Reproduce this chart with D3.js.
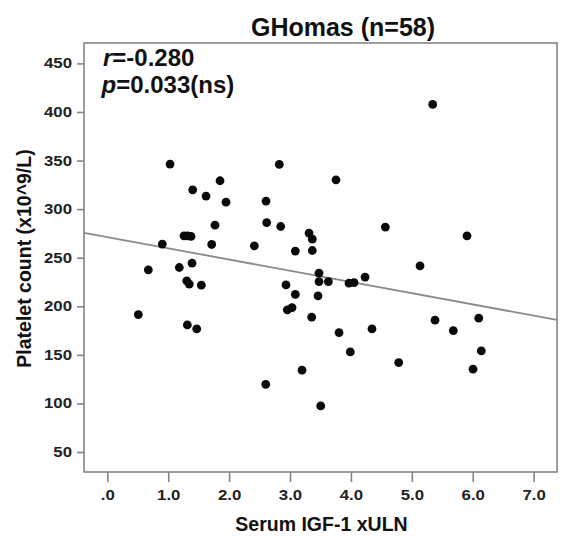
<!DOCTYPE html>
<html lang="en">
<head>
    <meta charset="UTF-8">
    <title>GHomas</title>
    <script src="https://d3js.org/d3.v7.min.js"></script>
    <style>
        body { margin: 0; background: #fff; }
        text { font-family: "Liberation Sans", Arial, sans-serif; }
    </style>
</head>
<body>
    <script>

        var w = 562;
        var h = 536;

        // serum IGF-1 (xULN) and platelet count (x10^9/L)
        var igf = [1.030, 0.903, 0.673, 1.182, 1.402, 1.621, 1.851, 1.949, 1.768, 1.259,
                   1.317, 1.374, 1.714, 1.391, 1.304, 1.346, 1.544, 2.414, 2.606, 2.617,
                   2.824, 2.847, 3.087, 2.934, 3.087, 0.509, 1.314, 1.468, 2.956, 3.033,
                   2.601, 3.197, 3.476, 3.629, 3.460, 3.356, 3.969, 4.051, 4.232, 3.805,
                   4.346, 3.990, 4.785, 3.504, 5.381, 5.681, 6.099, 6.141, 6.005, 5.343,
                   3.755, 4.565, 5.906, 3.312, 3.366, 3.366, 5.135, 3.476];
        var platelets = [346.4, 264.0, 237.5, 239.9, 319.9, 313.4, 329.2, 307.2, 283.5, 272.5,
                         272.5, 272.0, 263.6, 244.4, 226.2, 222.8, 221.7, 262.2, 308.3, 286.2,
                         346.0, 282.1, 256.8, 222.0, 212.3, 191.4, 180.8, 176.7, 196.3, 198.7,
                         119.7, 134.2, 225.4, 225.4, 210.7, 188.8, 223.8, 224.4, 230.0, 172.9,
                         176.7, 153.0, 142.0, 97.4, 185.7, 175.0, 187.7, 154.0, 135.2, 407.8,
                         330.2, 281.5, 272.5, 275.3, 269.1, 257.4, 241.6, 234.1];

        var xTicks = [0, 1, 2, 3, 4, 5, 6, 7];
        var yTicks = [50, 100, 150, 200, 250, 300, 350, 400, 450];

        // fit line
        var fitIntercept = 271.2;
        var fitSlope = -11.54;

        var title = 'GHomas (n=58)';
        var xLabel = 'Serum IGF-1 xULN';
        var yLabel = 'Platelet count (x10^9/L)';
        var rText = '=-0.280';
        var pText = '=0.033(ns)';

        var ds = igf.map(function(d, i){ return {x: d, y: platelets[i]}; });

        // plot box (don't call these top/left, window.top is read-only)
        var plotL = 84, plotR = 557, plotT = 43, plotB = 472;
        var gray = '#858585';
        var stretch = 1.2;

        var x = d3.scaleLinear().domain([-0.383, 7.384]).range([plotL, plotR]);
        var y = d3.scaleLinear().domain([29.4, 471]).range([plotB, plotT]);

        var svg = d3.select('body').append('svg')
            .attr('width', w).attr('height', h);

        // x axis
        var xAxis = d3.axisBottom(x).tickValues(xTicks).tickSize(10).tickPadding(8)
            .tickFormat(function(d){ return d === 0 ? '.0' : d3.format('.1f')(d); });
        var gx = svg.append('g').attr('transform', 'translate(0,' + plotB + ')').call(xAxis);
        gx.select('.domain').remove();
        gx.selectAll('.tick line').attr('stroke', gray).attr('stroke-width', 1.6);
        gx.selectAll('.tick text')
            .attr('font-size', 14).attr('font-weight', 'bold').attr('fill', '#222')
            .attr('font-family', '"Liberation Sans", Arial, sans-serif')
            .attr('transform', 'scale(' + stretch + ',1)');

        // y axis
        var yAxis = d3.axisLeft(y).tickValues(yTicks).tickSize(7);
        var gy = svg.append('g').attr('transform', 'translate(' + plotL + ',0)').call(yAxis);
        gy.select('.domain').remove();
        gy.selectAll('.tick line').attr('stroke', gray).attr('stroke-width', 1.6);
        gy.selectAll('.tick text')
            .attr('font-size', 14).attr('font-weight', 'bold').attr('fill', '#222')
            .attr('font-family', '"Liberation Sans", Arial, sans-serif')
            .attr('x', -12 / stretch)
            .attr('transform', 'scale(' + stretch + ',1)');

        // frame
        svg.append('rect')
            .attr('x', plotL).attr('y', plotT)
            .attr('width', plotR - plotL).attr('height', plotB - plotT)
            .attr('fill', 'none').attr('stroke', gray).attr('stroke-width', 1.6);

        // fit line
        var xd = x.domain();
        svg.append('line')
            .attr('x1', x(xd[0])).attr('y1', y(fitIntercept + fitSlope * xd[0]))
            .attr('x2', x(xd[1])).attr('y2', y(fitIntercept + fitSlope * xd[1]))
            .attr('stroke', '#8a8a8a').attr('stroke-width', 1.8);

        // dots
        svg.selectAll('circle').data(ds).enter().append('circle')
            .attr('cx', function(d){ return x(d.x); })
            .attr('cy', function(d){ return y(d.y); })
            .attr('r', 4.4)
            .attr('fill', '#0a0a0a');

        // stats
        var st = svg.append('text').attr('x', 103).attr('y', 66)
            .attr('font-size', 24).attr('font-weight', 'bold').attr('fill', '#111');
        st.append('tspan').attr('font-style', 'italic').text('r');
        st.append('tspan').text(rText);
        var sp = svg.append('text').attr('x', 101.5).attr('y', 93)
            .attr('font-size', 24).attr('font-weight', 'bold').attr('fill', '#111');
        sp.append('tspan').attr('font-style', 'italic').text('p');
        sp.append('tspan').text(pText);

        // titles
        svg.append('text').attr('x', 343).attr('y', 36)
            .attr('text-anchor', 'middle').attr('font-size', 25).attr('font-weight', 'bold')
            .attr('fill', '#111').text(title);

        svg.append('text').attr('x', 321.5).attr('y', 531)
            .attr('text-anchor', 'middle').attr('font-size', 19.5).attr('font-weight', 'bold')
            .attr('fill', '#111').text(xLabel);

        svg.append('text')
            .attr('transform', 'translate(31,258.5) rotate(-90)')
            .attr('text-anchor', 'middle').attr('font-size', 19.5).attr('font-weight', 'bold')
            .attr('fill', '#111').text(yLabel);

    </script>
</body>
</html>
